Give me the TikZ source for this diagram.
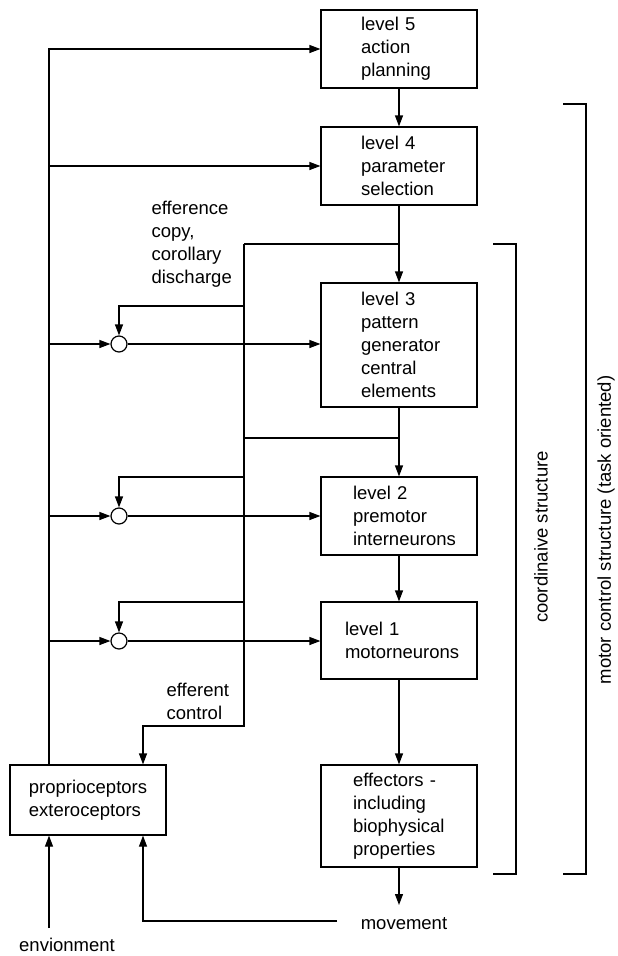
\documentclass[tikz,border=0pt]{standalone}
\usepackage{fontspec}
\setmainfont{Liberation Sans}
\usetikzlibrary{arrows.meta}
\begin{document}
\begin{tikzpicture}[x=1pt,y=-1pt,
  line width=1.2pt,
  every node/.style={font=\fontsize{18.5}{23}\selectfont},
  arr/.style={-{Triangle[length=11pt,width=8pt]}},
  box/.style={draw,minimum width=156pt,align=left,inner ysep=0pt},
  padA/.style={inner xsep=40pt,text width=76pt},
  padB/.style={inner xsep=32pt,text width=92pt},
  padC/.style={inner xsep=24pt,text width=108pt},
  sumc/.style={draw,circle,minimum size=16pt,inner sep=0pt,fill=white},
  lab/.style={align=left,inner sep=0pt,anchor=north west}]
\useasboundingbox (0,0) rectangle (618,956);
% boxes
\node[box,padA,minimum height=78pt] (l5) at (399,49) {level 5\\action\\planning};
\node[box,padA,minimum height=78pt] (l4) at (399,166) {level 4\\parameter\\selection};
\node[box,padA,minimum height=124pt] (l3) at (399,345) {level 3\\pattern\\generator\\central\\elements};
\node[box,padB,minimum height=78pt] (l2) at (399,516) {level 2\\premotor\\interneurons};
\node[box,padC,minimum height=77pt] (l1) at (399,640.5) {level 1\\motorneurons};
\node[box,padB,minimum height=102pt] (eff) at (399,816) {effectors -\\including\\biophysical\\properties};
\node[box,inner xsep=0pt,minimum height=70pt] (rec) at (88,800) {proprioceptors\\exteroceptors};
% summing circles
\node[sumc] (c3) at (119,344) {};
\node[sumc] (c2) at (119,516) {};
\node[sumc] (c1) at (119,641) {};
% coordinates
\coordinate (env) at (49,928);
\coordinate (ex) at (244,244);
\coordinate (ec) at (244,726);
\coordinate (b3) at (244,306);
\coordinate (b2) at (244,477);
\coordinate (b1) at (244,602);
\coordinate (j2) at (244,438);
\coordinate (mvl) at (143,921);
\coordinate (mvr) at (337,921);
\coordinate (mvend) at (399,905);
% texts
\node[anchor=base,inner sep=0pt] (movt) at (404,929) {movement};
\node[anchor=base,inner sep=0pt] (envt) at (67,951) {envionment};
\node[lab] (efc) at (151,201) {efference\\copy,\\corollary\\discharge};
\node[lab] (efo) at (166,683) {efferent\\control};
\node[rotate=90,inner sep=0pt] (coord) at (541,537) {coordinaive structure};
\node[rotate=90,inner sep=0pt] (mcs) at (606,530) {motor control structure (task oriented)};
% left feedback line
\draw[arr] (rec.north -| env) |- (l5.west);
\draw[arr] (l4.west -| env) -- (l4.west);
\draw[arr] (c3 -| env) -- (c3.west);
\draw[arr] (c2 -| env) -- (c2.west);
\draw[arr] (c1 -| env) -- (c1.west);
\draw[arr] (c3.east) -- (c3 -| l3.west);
\draw[arr] (c2.east) -- (c2 -| l2.west);
\draw[arr] (c1.east) -- (c1 -| l1.west);
% main chain
\draw[arr] (l5) -- (l4);
\draw[arr] (l4) -- (l3);
\draw[arr] (l3) -- (l2);
\draw[arr] (l2) -- (l1);
\draw[arr] (l1) -- (eff);
\draw[arr] (eff) -- (mvend);
% efference copy
\draw (ex -| l4.south) -- (ex);
\draw[arr] (ex) -- (ec) -| (rec.north -| mvl);
\draw (j2) -- (j2 -| l3.south);
\draw[arr] (b3) -| (c3.north);
\draw[arr] (b2) -| (c2.north);
\draw[arr] (b1) -| (c1.north);
% environment and movement
\draw[arr] (env) -- (rec.south -| env);
\draw[arr] (mvr) -- (mvl) -- (rec.south -| mvl);
% brackets
\draw (493,244) -- (516,244) -- (516,874) -- (493,874);
\draw (563,104) -- (586,104) -- (586,874) -- (563,874);
\end{tikzpicture}
\end{document}
